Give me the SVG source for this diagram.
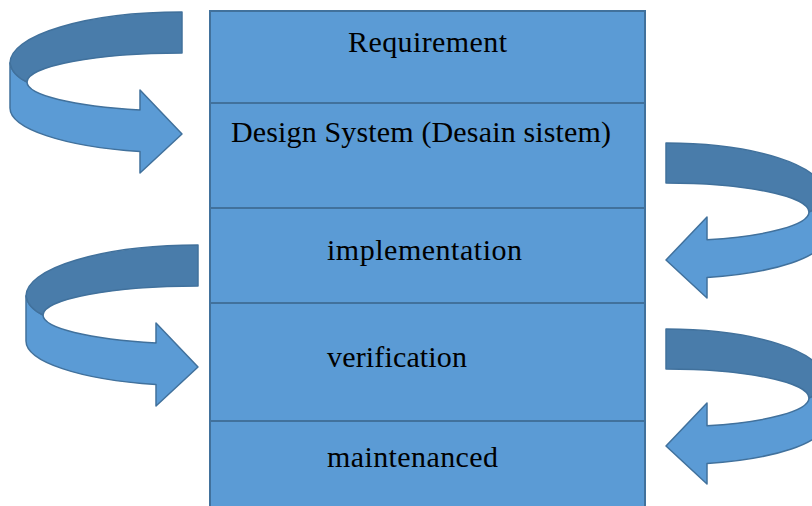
<svg xmlns="http://www.w3.org/2000/svg" width="812" height="506" viewBox="0 0 812 506">
  <style>
    .stage { fill: #5B9BD5; stroke: #41719C; stroke-width: 2; }
    .label { font-family: "Liberation Serif", "Times New Roman", serif; font-size: 30px; fill: #000; }
    .band-back { fill: #497CAA; stroke: #41719C; stroke-width: 1.5; stroke-linejoin: round; }
    .band-front { fill: #5B9BD5; stroke: #41719C; stroke-width: 1.5; stroke-linejoin: round; }
  </style>
  <defs>
    <!-- curved arrow that loops round the left side and points right -->
    <g id="loop-right">
      <path class="band-front" d="M10,63 L10,108 A172,45 0 0 0 140,151.6 L140,173 L182,134 L140,90 L140,109.9 A155,29 0 0 1 27,82 Q12,75 10,63 Z"/>
      <path class="band-back" d="M182,12 A172,51 0 0 0 10,63 Q12,75 27,82 A155,29 0 0 1 182,53 Z"/>
    </g>
    <!-- curved arrow that loops round the right side and points left -->
    <g id="loop-left">
      <path class="band-front" d="M824,193 L824,238 A158,41 0 0 1 707,277.6 L707,298 L666,260 L707,217 L707,239.8 A143,29 0 0 0 809,212 Q822,206 824,193 Z"/>
      <path class="band-back" d="M666,143 A158,50 0 0 1 824,193 Q822,206 809,212 A143,29 0 0 0 666,183 Z"/>
    </g>
  </defs>

  <rect width="812" height="506" fill="#ffffff"/>

  <g id="requirement">
    <rect class="stage" x="210" y="11" width="435" height="92"/>
    <text class="label" x="348" y="52" textLength="159">Requirement</text>
  </g>
  <g id="design-system">
    <rect class="stage" x="210" y="103" width="435" height="105"/>
    <text class="label" x="231" y="142" textLength="380">Design System (Desain sistem)</text>
  </g>
  <g id="implementation">
    <rect class="stage" x="210" y="208" width="435" height="95"/>
    <text class="label" x="327" y="260" textLength="195">implementation</text>
  </g>
  <g id="verification">
    <rect class="stage" x="210" y="303" width="435" height="118"/>
    <text class="label" x="327" y="367" textLength="140">verification</text>
  </g>
  <g id="maintenanced">
    <rect class="stage" x="210" y="421" width="435" height="100"/>
    <text class="label" x="327" y="467" textLength="171">maintenanced</text>
  </g>

  <g id="connectors">
    <use href="#loop-right"/>
    <use href="#loop-right" transform="translate(16,233)"/>
    <use href="#loop-left"/>
    <use href="#loop-left" transform="translate(0,186)"/>
  </g>
</svg>
